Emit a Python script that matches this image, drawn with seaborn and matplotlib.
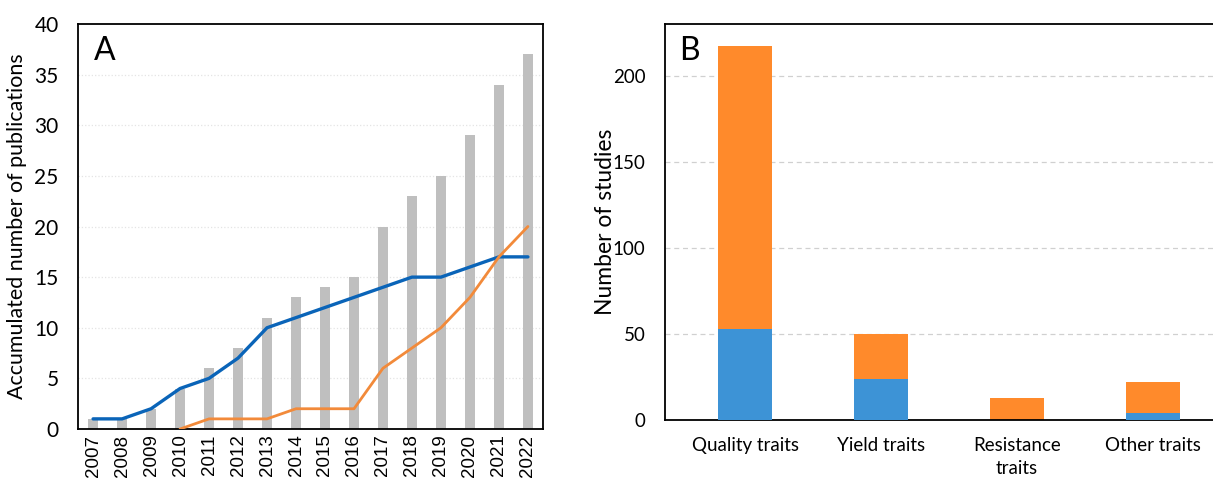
import numpy as np
import pandas as pd
import matplotlib.pyplot as plt
import seaborn as sns

sns.set_theme(style="white")
plt.rcParams['font.family'] = ['Lato', 'DejaVu Sans']
plt.rcParams['text.color'] = 'black'
plt.rcParams['axes.labelcolor'] = 'black'
plt.rcParams['xtick.color'] = 'black'
plt.rcParams['ytick.color'] = 'black'

# Panel A data
years = list(range(2007, 2023))
accumulated = [1, 1, 2, 4, 6, 8, 11, 13, 14, 15, 20, 23, 25, 29, 34, 37]
blue_series = [1, 1, 2, 4, 5, 7, 10, 11, 12, 13, 14, 15, 15, 16, 17, 17]
orange_years = list(range(2010, 2023))
orange_series = [0, 1, 1, 1, 2, 2, 2, 6, 8, 10, 13, 17, 20]

# Panel B data
traits = ['Quality traits', 'Yield traits', 'Resistance\ntraits', 'Other traits']
blue_part = [53, 24, 0, 4]
orange_part = [164, 26, 13, 18]

W, H = 1213, 480
fig = plt.figure(figsize=(W / 100, H / 100), dpi=100)

# ---------- Panel A ----------
axA = fig.add_axes([78 / W, 1 - 429 / H, (543 - 78) / W, (429 - 24) / H])
df_a = pd.DataFrame({'Year': years, 'Total': accumulated})
sns.barplot(data=df_a, x='Year', y='Total', native_scale=True, width=0.37,
            color='#BFBFBF', saturation=1, linewidth=0, ax=axA, zorder=2)
sns.lineplot(x=years, y=blue_series, color='#0A64B8', linewidth=2.4, ax=axA, zorder=3)
sns.lineplot(x=orange_years, y=orange_series, color='#F28A3A', linewidth=2.0, ax=axA, zorder=3)
axA.set_xlim(2006.48, 2022.52)
axA.set_ylim(0, 40)
axA.set_yticks(range(0, 41, 5))
axA.set_xticks(years)
axA.set_xticklabels([str(y) for y in years], rotation=90,
                    fontfamily='Liberation Sans', fontsize=13.5)
axA.tick_params(axis='y', labelsize=15, length=0, pad=14)
axA.tick_params(axis='x', length=0, pad=4)
axA.set_xlabel('')
axA.set_ylabel('Accumulated number of publications', fontsize=15.4, labelpad=5)
for v in range(5, 40, 5):
    axA.axhline(v, color='#E4E4E4', linewidth=0.9, linestyle=':', zorder=1)
for s in axA.spines.values():
    s.set_color('black')
    s.set_linewidth(1.3)
axA.text(0.035, 0.97, 'A', transform=axA.transAxes, fontsize=23, va='top', ha='left')

# ---------- Panel B ----------
axB = fig.add_axes([665 / W, 1 - 420 / H, (1233 - 665) / W, (420 - 24) / H])
total = [b + o for b, o in zip(blue_part, orange_part)]
df_b = pd.DataFrame({'Trait': traits, 'Total': total, 'Blue': blue_part})
sns.barplot(data=df_b, x='Trait', y='Total', color='#FF8A2B', saturation=1,
            width=0.4, linewidth=0, ax=axB, zorder=2)
sns.barplot(data=df_b, x='Trait', y='Blue', color='#3D93D6', saturation=1,
            width=0.4, linewidth=0, ax=axB, zorder=3)
axB.set_xlim(-0.59, 3.59)
axB.set_ylim(0, 230)
axB.set_yticks([0, 50, 100, 150, 200])
for v in [50, 100, 150, 200]:
    axB.axhline(v, color='#D0D0D0', linewidth=0.9, linestyle=(0, (4, 3)), zorder=1)
axB.tick_params(axis='y', labelsize=13.5, length=0, pad=14)
axB.tick_params(axis='x', labelsize=13.5, length=0, pad=12)
for lbl in axB.get_xticklabels():
    lbl.set_linespacing(1.45)
axB.set_xlabel('')
axB.set_ylabel('Number of studies', fontsize=16.5)
axB.yaxis.set_label_coords(-0.087, 0.5)
for s in axB.spines.values():
    s.set_color('black')
    s.set_linewidth(1.3)
axB.text(0.025, 0.97, 'B', transform=axB.transAxes, fontsize=23, va='top', ha='left')

fig.savefig('out.png', dpi=100)
